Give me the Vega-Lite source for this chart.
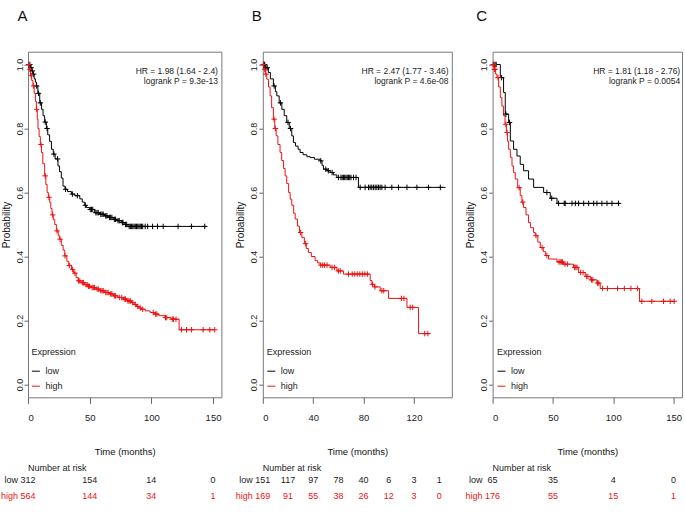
{
"$schema": "https://vega.github.io/schema/vega-lite/v6.json",
"background": "white",
"padding": {"left": 0, "top": 7.7, "right": 2, "bottom": 2},
"spacing": 40.8,
"bounds": "flush",
"resolve": {"scale": {"color": "independent"}, "legend": {"color": "independent"}},
"config": {
  "view": {"stroke": "#777", "strokeWidth": 1},
  "font": "Liberation Sans, Arial, sans-serif",
  "axis": {"domain": false, "grid": false, "tickColor": "#666", "labelColor": "#222", "labelFont": "Liberation Sans, Arial, sans-serif", "labelFontSize": 9.5, "titleFont": "Liberation Sans, Arial, sans-serif", "titleFontWeight": "normal", "titleFontSize": 9.5, "titleColor": "#111"},
  "axisY": {"labelFontSize": 9, "titleFontSize": 10},
  "legend": {"padding": 0, "symbolType": "stroke", "symbolSize": 64, "symbolStrokeWidth": 1, "labelFontSize": 9, "titleFontSize": 9, "titleFontWeight": "normal", "labelColor": "#222", "titleColor": "#222", "rowPadding": 5, "titlePadding": 10, "labelOffset": 5, "labelFont": "Liberation Sans, Arial, sans-serif", "titleFont": "Liberation Sans, Arial, sans-serif"},
  "title": {"font": "Liberation Sans, sans-serif", "fontSize": 15, "fontWeight": "normal", "anchor": "start", "frame": "group", "baseline": "alphabetic", "offset": 28, "color": "#111"}
},
"datasets": {
  "curves": [
    {"p":"A","g":"low","t":0,"s":1},{"p":"A","g":"low","t":2,"s":0.99},{"p":"A","g":"low","t":3,"s":0.98},{"p":"A","g":"low","t":4,"s":0.97},{"p":"A","g":"low","t":5,"s":0.955},{"p":"A","g":"low","t":6,"s":0.945},{"p":"A","g":"low","t":6.8,"s":0.933},{"p":"A","g":"low","t":8,"s":0.91},{"p":"A","g":"low","t":9.5,"s":0.88},{"p":"A","g":"low","t":11,"s":0.86},{"p":"A","g":"low","t":12.2,"s":0.84},{"p":"A","g":"low","t":13.5,"s":0.82},{"p":"A","g":"low","t":14.9,"s":0.8},{"p":"A","g":"low","t":16,"s":0.78},{"p":"A","g":"low","t":17.5,"s":0.76},{"p":"A","g":"low","t":19,"s":0.735},{"p":"A","g":"low","t":20.5,"s":0.72},{"p":"A","g":"low","t":22,"s":0.705},{"p":"A","g":"low","t":24.3,"s":0.683},{"p":"A","g":"low","t":25.5,"s":0.665},{"p":"A","g":"low","t":27,"s":0.645},{"p":"A","g":"low","t":28.4,"s":0.62},{"p":"A","g":"low","t":30,"s":0.61},{"p":"A","g":"low","t":32,"s":0.603},{"p":"A","g":"low","t":35.2,"s":0.595},{"p":"A","g":"low","t":38,"s":0.59},{"p":"A","g":"low","t":42,"s":0.58},{"p":"A","g":"low","t":44,"s":0.57},{"p":"A","g":"low","t":46,"s":0.56},{"p":"A","g":"low","t":47.3,"s":0.553},{"p":"A","g":"low","t":50,"s":0.547},{"p":"A","g":"low","t":54,"s":0.537},{"p":"A","g":"low","t":58,"s":0.532},{"p":"A","g":"low","t":62,"s":0.527},{"p":"A","g":"low","t":65,"s":0.522},{"p":"A","g":"low","t":69,"s":0.516},{"p":"A","g":"low","t":72,"s":0.512},{"p":"A","g":"low","t":75.7,"s":0.506},{"p":"A","g":"low","t":78,"s":0.5},{"p":"A","g":"low","t":81,"s":0.494},{"p":"A","g":"low","t":144.5,"s":0.494},
    {"p":"A","g":"high","t":0,"s":1},{"p":"A","g":"high","t":1,"s":0.985},{"p":"A","g":"high","t":2,"s":0.965},{"p":"A","g":"high","t":3,"s":0.95},{"p":"A","g":"high","t":4,"s":0.933},{"p":"A","g":"high","t":5,"s":0.91},{"p":"A","g":"high","t":6,"s":0.885},{"p":"A","g":"high","t":6.8,"s":0.86},{"p":"A","g":"high","t":7.5,"s":0.83},{"p":"A","g":"high","t":8.1,"s":0.8},{"p":"A","g":"high","t":9,"s":0.775},{"p":"A","g":"high","t":10,"s":0.75},{"p":"A","g":"high","t":10.9,"s":0.725},{"p":"A","g":"high","t":12,"s":0.69},{"p":"A","g":"high","t":13.5,"s":0.652},{"p":"A","g":"high","t":14.5,"s":0.625},{"p":"A","g":"high","t":15.5,"s":0.6},{"p":"A","g":"high","t":16.5,"s":0.585},{"p":"A","g":"high","t":17.6,"s":0.569},{"p":"A","g":"high","t":18.5,"s":0.55},{"p":"A","g":"high","t":19.5,"s":0.53},{"p":"A","g":"high","t":20.5,"s":0.515},{"p":"A","g":"high","t":21.7,"s":0.5},{"p":"A","g":"high","t":23,"s":0.48},{"p":"A","g":"high","t":24.5,"s":0.465},{"p":"A","g":"high","t":25.7,"s":0.454},{"p":"A","g":"high","t":27,"s":0.435},{"p":"A","g":"high","t":28.5,"s":0.42},{"p":"A","g":"high","t":29.8,"s":0.402},{"p":"A","g":"high","t":31.5,"s":0.385},{"p":"A","g":"high","t":33,"s":0.372},{"p":"A","g":"high","t":35.2,"s":0.36},{"p":"A","g":"high","t":37,"s":0.348},{"p":"A","g":"high","t":39,"s":0.335},{"p":"A","g":"high","t":40.6,"s":0.324},{"p":"A","g":"high","t":43,"s":0.318},{"p":"A","g":"high","t":46,"s":0.312},{"p":"A","g":"high","t":48.5,"s":0.307},{"p":"A","g":"high","t":51.4,"s":0.303},{"p":"A","g":"high","t":55,"s":0.298},{"p":"A","g":"high","t":58.5,"s":0.293},{"p":"A","g":"high","t":62.2,"s":0.2875},{"p":"A","g":"high","t":66,"s":0.283},{"p":"A","g":"high","t":69.5,"s":0.277},{"p":"A","g":"high","t":73,"s":0.272},{"p":"A","g":"high","t":77,"s":0.267},{"p":"A","g":"high","t":80.5,"s":0.261},{"p":"A","g":"high","t":83.9,"s":0.256},{"p":"A","g":"high","t":86,"s":0.25},{"p":"A","g":"high","t":88,"s":0.244},{"p":"A","g":"high","t":90,"s":0.239},{"p":"A","g":"high","t":92,"s":0.235},{"p":"A","g":"high","t":95,"s":0.23},{"p":"A","g":"high","t":99,"s":0.225},{"p":"A","g":"high","t":102.8,"s":0.22},{"p":"A","g":"high","t":106,"s":0.215},{"p":"A","g":"high","t":110.9,"s":0.209},{"p":"A","g":"high","t":116,"s":0.204},{"p":"A","g":"high","t":122.5,"s":0.171},{"p":"A","g":"high","t":151.4,"s":0.171},
    {"p":"B","g":"low","t":0,"s":1},{"p":"B","g":"low","t":2,"s":0.99},{"p":"B","g":"low","t":4.4,"s":0.975},{"p":"B","g":"low","t":6,"s":0.955},{"p":"B","g":"low","t":8.4,"s":0.933},{"p":"B","g":"low","t":10,"s":0.915},{"p":"B","g":"low","t":11.1,"s":0.902},{"p":"B","g":"low","t":13,"s":0.88},{"p":"B","g":"low","t":15.1,"s":0.86},{"p":"B","g":"low","t":17,"s":0.84},{"p":"B","g":"low","t":19,"s":0.819},{"p":"B","g":"low","t":21,"s":0.8},{"p":"B","g":"low","t":23,"s":0.777},{"p":"B","g":"low","t":24.3,"s":0.756},{"p":"B","g":"low","t":26,"s":0.745},{"p":"B","g":"low","t":28,"s":0.735},{"p":"B","g":"low","t":29.6,"s":0.725},{"p":"B","g":"low","t":32,"s":0.718},{"p":"B","g":"low","t":35,"s":0.712},{"p":"B","g":"low","t":37.6,"s":0.709},{"p":"B","g":"low","t":41,"s":0.704},{"p":"B","g":"low","t":45.5,"s":0.699},{"p":"B","g":"low","t":47,"s":0.685},{"p":"B","g":"low","t":48.1,"s":0.673},{"p":"B","g":"low","t":51,"s":0.668},{"p":"B","g":"low","t":53.5,"s":0.6625},{"p":"B","g":"low","t":56,"s":0.655},{"p":"B","g":"low","t":58.8,"s":0.647},{"p":"B","g":"low","t":75.9,"s":0.616},{"p":"B","g":"low","t":145,"s":0.616},
    {"p":"B","g":"high","t":0,"s":1},{"p":"B","g":"high","t":1,"s":0.985},{"p":"B","g":"high","t":2,"s":0.97},{"p":"B","g":"high","t":3.2,"s":0.954},{"p":"B","g":"high","t":4.5,"s":0.93},{"p":"B","g":"high","t":5.8,"s":0.902},{"p":"B","g":"high","t":7,"s":0.865},{"p":"B","g":"high","t":8.4,"s":0.829},{"p":"B","g":"high","t":9.5,"s":0.8},{"p":"B","g":"high","t":10.6,"s":0.777},{"p":"B","g":"high","t":12,"s":0.75},{"p":"B","g":"high","t":13.7,"s":0.725},{"p":"B","g":"high","t":15,"s":0.7},{"p":"B","g":"high","t":16.5,"s":0.675},{"p":"B","g":"high","t":17.7,"s":0.652},{"p":"B","g":"high","t":19,"s":0.628},{"p":"B","g":"high","t":20.5,"s":0.6},{"p":"B","g":"high","t":21.7,"s":0.579},{"p":"B","g":"high","t":23,"s":0.56},{"p":"B","g":"high","t":24.5,"s":0.535},{"p":"B","g":"high","t":25.7,"s":0.517},{"p":"B","g":"high","t":27.5,"s":0.495},{"p":"B","g":"high","t":29.1,"s":0.475},{"p":"B","g":"high","t":31,"s":0.459},{"p":"B","g":"high","t":33,"s":0.44},{"p":"B","g":"high","t":34.5,"s":0.425},{"p":"B","g":"high","t":36.2,"s":0.4125},{"p":"B","g":"high","t":38.5,"s":0.4},{"p":"B","g":"high","t":41.5,"s":0.387},{"p":"B","g":"high","t":43.5,"s":0.38},{"p":"B","g":"high","t":45.5,"s":0.373},{"p":"B","g":"high","t":53.5,"s":0.366},{"p":"B","g":"high","t":58.8,"s":0.355},{"p":"B","g":"high","t":64,"s":0.345},{"p":"B","g":"high","t":85.2,"s":0.325},{"p":"B","g":"high","t":86.6,"s":0.313},{"p":"B","g":"high","t":88.5,"s":0.305},{"p":"B","g":"high","t":93.2,"s":0.293},{"p":"B","g":"high","t":99.8,"s":0.269},{"p":"B","g":"high","t":114.4,"s":0.241},{"p":"B","g":"high","t":123.6,"s":0.159},{"p":"B","g":"high","t":132.9,"s":0.159},
    {"p":"C","g":"low","t":0,"s":1},{"p":"C","g":"low","t":6.4,"s":0.959},{"p":"C","g":"low","t":9.1,"s":0.9125},{"p":"C","g":"low","t":10.5,"s":0.845},{"p":"C","g":"low","t":13.3,"s":0.819},{"p":"C","g":"low","t":14.7,"s":0.761},{"p":"C","g":"low","t":17.4,"s":0.735},{"p":"C","g":"low","t":20.2,"s":0.714},{"p":"C","g":"low","t":22.9,"s":0.688},{"p":"C","g":"low","t":25.7,"s":0.668},{"p":"C","g":"low","t":29.8,"s":0.642},{"p":"C","g":"low","t":34,"s":0.616},{"p":"C","g":"low","t":42.3,"s":0.6},{"p":"C","g":"low","t":47.8,"s":0.582},{"p":"C","g":"low","t":53.4,"s":0.566},{"p":"C","g":"low","t":105.5,"s":0.566},
    {"p":"C","g":"high","t":0,"s":1},{"p":"C","g":"high","t":1.5,"s":0.985},{"p":"C","g":"high","t":2.5,"s":0.97},{"p":"C","g":"high","t":3.6,"s":0.959},{"p":"C","g":"high","t":5,"s":0.93},{"p":"C","g":"high","t":6.4,"s":0.897},{"p":"C","g":"high","t":7.7,"s":0.87},{"p":"C","g":"high","t":9.1,"s":0.84},{"p":"C","g":"high","t":10.3,"s":0.813},{"p":"C","g":"high","t":11.4,"s":0.7875},{"p":"C","g":"high","t":12.3,"s":0.76},{"p":"C","g":"high","t":13.3,"s":0.735},{"p":"C","g":"high","t":14.7,"s":0.71},{"p":"C","g":"high","t":16.1,"s":0.683},{"p":"C","g":"high","t":17.4,"s":0.662},{"p":"C","g":"high","t":18.8,"s":0.642},{"p":"C","g":"high","t":20.8,"s":0.615},{"p":"C","g":"high","t":22.9,"s":0.59},{"p":"C","g":"high","t":24.3,"s":0.57},{"p":"C","g":"high","t":25.7,"s":0.553},{"p":"C","g":"high","t":27.7,"s":0.53},{"p":"C","g":"high","t":29.8,"s":0.506},{"p":"C","g":"high","t":31.5,"s":0.49},{"p":"C","g":"high","t":34,"s":0.475},{"p":"C","g":"high","t":35.4,"s":0.465},{"p":"C","g":"high","t":37.5,"s":0.445},{"p":"C","g":"high","t":39.5,"s":0.428},{"p":"C","g":"high","t":42,"s":0.415},{"p":"C","g":"high","t":44,"s":0.403},{"p":"C","g":"high","t":46.4,"s":0.392},{"p":"C","g":"high","t":53.4,"s":0.383},{"p":"C","g":"high","t":58.8,"s":0.376},{"p":"C","g":"high","t":67.1,"s":0.366},{"p":"C","g":"high","t":71.3,"s":0.35},{"p":"C","g":"high","t":76.8,"s":0.3375},{"p":"C","g":"high","t":81,"s":0.327},{"p":"C","g":"high","t":86.5,"s":0.317},{"p":"C","g":"high","t":89.2,"s":0.3},{"p":"C","g":"high","t":121.8,"s":0.26},{"p":"C","g":"high","t":151.3,"s":0.26}
  ],
  "censor": [
    {"p":"A","g":"low","t":1.5,"s":1},{"p":"A","g":"low","t":2.5,"s":0.99},{"p":"A","g":"low","t":3.5,"s":0.98},{"p":"A","g":"low","t":4.5,"s":0.97},{"p":"A","g":"low","t":7,"s":0.933},{"p":"A","g":"low","t":8.5,"s":0.91},{"p":"A","g":"low","t":10,"s":0.88},{"p":"A","g":"low","t":14,"s":0.82},{"p":"A","g":"low","t":15.5,"s":0.8},{"p":"A","g":"low","t":21,"s":0.72},{"p":"A","g":"low","t":24,"s":0.705},{"p":"A","g":"low","t":30.5,"s":0.61},{"p":"A","g":"low","t":36,"s":0.595},{"p":"A","g":"low","t":40,"s":0.59},{"p":"A","g":"low","t":46.5,"s":0.56},{"p":"A","g":"low","t":50.5,"s":0.547},{"p":"A","g":"low","t":51.5,"s":0.547},{"p":"A","g":"low","t":52.5,"s":0.547},{"p":"A","g":"low","t":55,"s":0.537},{"p":"A","g":"low","t":56,"s":0.537},{"p":"A","g":"low","t":57,"s":0.537},{"p":"A","g":"low","t":59,"s":0.532},{"p":"A","g":"low","t":60,"s":0.532},{"p":"A","g":"low","t":61,"s":0.532},{"p":"A","g":"low","t":63,"s":0.527},{"p":"A","g":"low","t":64,"s":0.527},{"p":"A","g":"low","t":66,"s":0.522},{"p":"A","g":"low","t":67,"s":0.522},{"p":"A","g":"low","t":68,"s":0.522},{"p":"A","g":"low","t":70,"s":0.516},{"p":"A","g":"low","t":71,"s":0.516},{"p":"A","g":"low","t":73,"s":0.512},{"p":"A","g":"low","t":74,"s":0.512},{"p":"A","g":"low","t":76.5,"s":0.506},{"p":"A","g":"low","t":77,"s":0.506},{"p":"A","g":"low","t":79,"s":0.5},{"p":"A","g":"low","t":80,"s":0.5},{"p":"A","g":"low","t":82,"s":0.494},{"p":"A","g":"low","t":83,"s":0.494},{"p":"A","g":"low","t":84,"s":0.494},{"p":"A","g":"low","t":85,"s":0.494},{"p":"A","g":"low","t":86,"s":0.494},{"p":"A","g":"low","t":87,"s":0.494},{"p":"A","g":"low","t":88,"s":0.494},{"p":"A","g":"low","t":89,"s":0.494},{"p":"A","g":"low","t":90,"s":0.494},{"p":"A","g":"low","t":91,"s":0.494},{"p":"A","g":"low","t":92,"s":0.494},{"p":"A","g":"low","t":93,"s":0.494},{"p":"A","g":"low","t":95,"s":0.494},{"p":"A","g":"low","t":97,"s":0.494},{"p":"A","g":"low","t":101,"s":0.494},{"p":"A","g":"low","t":105,"s":0.494},{"p":"A","g":"low","t":109.6,"s":0.494},{"p":"A","g":"low","t":121.7,"s":0.494},{"p":"A","g":"low","t":132.5,"s":0.494},{"p":"A","g":"low","t":143.3,"s":0.494},
    {"p":"A","g":"high","t":0.5,"s":1},{"p":"A","g":"high","t":1.5,"s":0.985},{"p":"A","g":"high","t":2.5,"s":0.965},{"p":"A","g":"high","t":4.5,"s":0.933},{"p":"A","g":"high","t":7,"s":0.86},{"p":"A","g":"high","t":10.5,"s":0.75},{"p":"A","g":"high","t":14,"s":0.652},{"p":"A","g":"high","t":17,"s":0.585},{"p":"A","g":"high","t":20,"s":0.53},{"p":"A","g":"high","t":23.5,"s":0.48},{"p":"A","g":"high","t":26,"s":0.454},{"p":"A","g":"high","t":30,"s":0.402},{"p":"A","g":"high","t":33.5,"s":0.372},{"p":"A","g":"high","t":36,"s":0.36},{"p":"A","g":"high","t":38,"s":0.348},{"p":"A","g":"high","t":41,"s":0.324},{"p":"A","g":"high","t":42,"s":0.324},{"p":"A","g":"high","t":44,"s":0.318},{"p":"A","g":"high","t":45,"s":0.318},{"p":"A","g":"high","t":47,"s":0.312},{"p":"A","g":"high","t":48,"s":0.312},{"p":"A","g":"high","t":49,"s":0.307},{"p":"A","g":"high","t":50,"s":0.307},{"p":"A","g":"high","t":52,"s":0.303},{"p":"A","g":"high","t":53,"s":0.303},{"p":"A","g":"high","t":54,"s":0.303},{"p":"A","g":"high","t":56,"s":0.298},{"p":"A","g":"high","t":57,"s":0.298},{"p":"A","g":"high","t":59,"s":0.293},{"p":"A","g":"high","t":60,"s":0.293},{"p":"A","g":"high","t":61,"s":0.293},{"p":"A","g":"high","t":63,"s":0.2875},{"p":"A","g":"high","t":64,"s":0.2875},{"p":"A","g":"high","t":65,"s":0.2875},{"p":"A","g":"high","t":67,"s":0.283},{"p":"A","g":"high","t":68,"s":0.283},{"p":"A","g":"high","t":70,"s":0.277},{"p":"A","g":"high","t":71,"s":0.277},{"p":"A","g":"high","t":74,"s":0.272},{"p":"A","g":"high","t":76,"s":0.272},{"p":"A","g":"high","t":78,"s":0.267},{"p":"A","g":"high","t":79,"s":0.267},{"p":"A","g":"high","t":81,"s":0.261},{"p":"A","g":"high","t":82,"s":0.261},{"p":"A","g":"high","t":83,"s":0.261},{"p":"A","g":"high","t":85,"s":0.256},{"p":"A","g":"high","t":87,"s":0.25},{"p":"A","g":"high","t":89,"s":0.244},{"p":"A","g":"high","t":91,"s":0.239},{"p":"A","g":"high","t":93,"s":0.235},{"p":"A","g":"high","t":101.5,"s":0.225},{"p":"A","g":"high","t":103.5,"s":0.22},{"p":"A","g":"high","t":104.5,"s":0.22},{"p":"A","g":"high","t":111.5,"s":0.209},{"p":"A","g":"high","t":112.5,"s":0.209},{"p":"A","g":"high","t":117,"s":0.204},{"p":"A","g":"high","t":118,"s":0.204},{"p":"A","g":"high","t":120,"s":0.204},{"p":"A","g":"high","t":124.4,"s":0.171},{"p":"A","g":"high","t":128.5,"s":0.171},{"p":"A","g":"high","t":132.5,"s":0.171},{"p":"A","g":"high","t":142,"s":0.171},{"p":"A","g":"high","t":147.4,"s":0.171},{"p":"A","g":"high","t":151.4,"s":0.171},
    {"p":"B","g":"low","t":0.5,"s":1},{"p":"B","g":"low","t":1,"s":1},{"p":"B","g":"low","t":1.5,"s":1},{"p":"B","g":"low","t":2.5,"s":0.99},{"p":"B","g":"low","t":3.5,"s":0.99},{"p":"B","g":"low","t":9,"s":0.933},{"p":"B","g":"low","t":14,"s":0.88},{"p":"B","g":"low","t":20,"s":0.819},{"p":"B","g":"low","t":22,"s":0.8},{"p":"B","g":"low","t":46,"s":0.699},{"p":"B","g":"low","t":50,"s":0.673},{"p":"B","g":"low","t":52,"s":0.668},{"p":"B","g":"low","t":55,"s":0.6625},{"p":"B","g":"low","t":60,"s":0.647},{"p":"B","g":"low","t":62,"s":0.647},{"p":"B","g":"low","t":63,"s":0.647},{"p":"B","g":"low","t":64,"s":0.647},{"p":"B","g":"low","t":65,"s":0.647},{"p":"B","g":"low","t":66,"s":0.647},{"p":"B","g":"low","t":67,"s":0.647},{"p":"B","g":"low","t":68,"s":0.647},{"p":"B","g":"low","t":69,"s":0.647},{"p":"B","g":"low","t":70,"s":0.647},{"p":"B","g":"low","t":72,"s":0.647},{"p":"B","g":"low","t":74,"s":0.647},{"p":"B","g":"low","t":77.3,"s":0.616},{"p":"B","g":"low","t":81.2,"s":0.616},{"p":"B","g":"low","t":83.9,"s":0.616},{"p":"B","g":"low","t":85.2,"s":0.616},{"p":"B","g":"low","t":86.5,"s":0.616},{"p":"B","g":"low","t":87.8,"s":0.616},{"p":"B","g":"low","t":89.2,"s":0.616},{"p":"B","g":"low","t":90.5,"s":0.616},{"p":"B","g":"low","t":91.8,"s":0.616},{"p":"B","g":"low","t":93.1,"s":0.616},{"p":"B","g":"low","t":94.5,"s":0.616},{"p":"B","g":"low","t":97.1,"s":0.616},{"p":"B","g":"low","t":102.4,"s":0.616},{"p":"B","g":"low","t":107.7,"s":0.616},{"p":"B","g":"low","t":114.4,"s":0.616},{"p":"B","g":"low","t":122.3,"s":0.616},{"p":"B","g":"low","t":131.5,"s":0.616},{"p":"B","g":"low","t":140.9,"s":0.616},
    {"p":"B","g":"high","t":0.5,"s":1},{"p":"B","g":"high","t":1.5,"s":0.985},{"p":"B","g":"high","t":2.5,"s":0.97},{"p":"B","g":"high","t":9,"s":0.829},{"p":"B","g":"high","t":10,"s":0.8},{"p":"B","g":"high","t":30,"s":0.475},{"p":"B","g":"high","t":34,"s":0.44},{"p":"B","g":"high","t":46,"s":0.373},{"p":"B","g":"high","t":47.5,"s":0.373},{"p":"B","g":"high","t":49,"s":0.373},{"p":"B","g":"high","t":51,"s":0.373},{"p":"B","g":"high","t":55,"s":0.366},{"p":"B","g":"high","t":57,"s":0.366},{"p":"B","g":"high","t":60,"s":0.355},{"p":"B","g":"high","t":61.5,"s":0.355},{"p":"B","g":"high","t":68,"s":0.345},{"p":"B","g":"high","t":71,"s":0.345},{"p":"B","g":"high","t":73,"s":0.345},{"p":"B","g":"high","t":75,"s":0.345},{"p":"B","g":"high","t":77,"s":0.345},{"p":"B","g":"high","t":79,"s":0.345},{"p":"B","g":"high","t":81,"s":0.345},{"p":"B","g":"high","t":83,"s":0.345},{"p":"B","g":"high","t":87,"s":0.313},{"p":"B","g":"high","t":89,"s":0.305},{"p":"B","g":"high","t":94.5,"s":0.293},{"p":"B","g":"high","t":96,"s":0.293},{"p":"B","g":"high","t":110,"s":0.269},{"p":"B","g":"high","t":112,"s":0.269},{"p":"B","g":"high","t":117,"s":0.241},{"p":"B","g":"high","t":119,"s":0.241},{"p":"B","g":"high","t":128.5,"s":0.159},{"p":"B","g":"high","t":131,"s":0.159},
    {"p":"C","g":"low","t":1,"s":1},{"p":"C","g":"low","t":2,"s":1},{"p":"C","g":"low","t":3,"s":1},{"p":"C","g":"low","t":7.5,"s":0.959},{"p":"C","g":"low","t":11,"s":0.845},{"p":"C","g":"low","t":14,"s":0.819},{"p":"C","g":"low","t":45,"s":0.6},{"p":"C","g":"low","t":49,"s":0.582},{"p":"C","g":"low","t":54.7,"s":0.566},{"p":"C","g":"low","t":59.4,"s":0.566},{"p":"C","g":"low","t":60.2,"s":0.566},{"p":"C","g":"low","t":65.8,"s":0.566},{"p":"C","g":"low","t":68.6,"s":0.566},{"p":"C","g":"low","t":71.3,"s":0.566},{"p":"C","g":"low","t":75.5,"s":0.566},{"p":"C","g":"low","t":79.6,"s":0.566},{"p":"C","g":"low","t":83.8,"s":0.566},{"p":"C","g":"low","t":86.5,"s":0.566},{"p":"C","g":"low","t":90.6,"s":0.566},{"p":"C","g":"low","t":94.8,"s":0.566},{"p":"C","g":"low","t":98.9,"s":0.566},{"p":"C","g":"low","t":104.4,"s":0.566},
    {"p":"C","g":"high","t":0.5,"s":1},{"p":"C","g":"high","t":1,"s":1},{"p":"C","g":"high","t":1.5,"s":0.985},{"p":"C","g":"high","t":2,"s":0.985},{"p":"C","g":"high","t":4.5,"s":0.959},{"p":"C","g":"high","t":11,"s":0.813},{"p":"C","g":"high","t":12,"s":0.7875},{"p":"C","g":"high","t":22,"s":0.615},{"p":"C","g":"high","t":25,"s":0.57},{"p":"C","g":"high","t":36,"s":0.465},{"p":"C","g":"high","t":41,"s":0.428},{"p":"C","g":"high","t":45,"s":0.403},{"p":"C","g":"high","t":55,"s":0.383},{"p":"C","g":"high","t":56,"s":0.383},{"p":"C","g":"high","t":57,"s":0.383},{"p":"C","g":"high","t":58,"s":0.383},{"p":"C","g":"high","t":60,"s":0.376},{"p":"C","g":"high","t":62,"s":0.376},{"p":"C","g":"high","t":68,"s":0.366},{"p":"C","g":"high","t":69,"s":0.366},{"p":"C","g":"high","t":70,"s":0.366},{"p":"C","g":"high","t":73,"s":0.35},{"p":"C","g":"high","t":75,"s":0.35},{"p":"C","g":"high","t":78,"s":0.3375},{"p":"C","g":"high","t":79,"s":0.3375},{"p":"C","g":"high","t":82,"s":0.327},{"p":"C","g":"high","t":83,"s":0.327},{"p":"C","g":"high","t":87,"s":0.317},{"p":"C","g":"high","t":88,"s":0.317},{"p":"C","g":"high","t":91.2,"s":0.3},{"p":"C","g":"high","t":95.3,"s":0.3},{"p":"C","g":"high","t":103.6,"s":0.3},{"p":"C","g":"high","t":109.2,"s":0.3},{"p":"C","g":"high","t":114.7,"s":0.3},{"p":"C","g":"high","t":120.2,"s":0.3},{"p":"C","g":"high","t":123.7,"s":0.26},{"p":"C","g":"high","t":132,"s":0.26},{"p":"C","g":"high","t":141.7,"s":0.26},{"p":"C","g":"high","t":147.2,"s":0.26},{"p":"C","g":"high","t":150.5,"s":0.26}
  ],
  "risk": [
    {"p":"A","g":"low","t":0,"n":"312"},{"p":"A","g":"low","t":50,"n":"154"},{"p":"A","g":"low","t":100,"n":"14"},{"p":"A","g":"low","t":150,"n":"0"},
    {"p":"A","g":"high","t":0,"n":"564"},{"p":"A","g":"high","t":50,"n":"144"},{"p":"A","g":"high","t":100,"n":"34"},{"p":"A","g":"high","t":150,"n":"1"},
    {"p":"B","g":"low","t":0,"n":"151"},{"p":"B","g":"low","t":20,"n":"117"},{"p":"B","g":"low","t":40,"n":"97"},{"p":"B","g":"low","t":60,"n":"78"},{"p":"B","g":"low","t":80,"n":"40"},{"p":"B","g":"low","t":100,"n":"6"},{"p":"B","g":"low","t":120,"n":"3"},{"p":"B","g":"low","t":140,"n":"1"},
    {"p":"B","g":"high","t":0,"n":"169"},{"p":"B","g":"high","t":20,"n":"91"},{"p":"B","g":"high","t":40,"n":"55"},{"p":"B","g":"high","t":60,"n":"38"},{"p":"B","g":"high","t":80,"n":"26"},{"p":"B","g":"high","t":100,"n":"12"},{"p":"B","g":"high","t":120,"n":"3"},{"p":"B","g":"high","t":140,"n":"0"},
    {"p":"C","g":"low","t":0,"n":"65"},{"p":"C","g":"low","t":50,"n":"35"},{"p":"C","g":"low","t":100,"n":"4"},{"p":"C","g":"low","t":150,"n":"0"},
    {"p":"C","g":"high","t":0,"n":"176"},{"p":"C","g":"high","t":50,"n":"55"},{"p":"C","g":"high","t":100,"n":"15"},{"p":"C","g":"high","t":150,"n":"1"}
  ]
},
"hconcat": [
  {
    "width": 193.4, "height": 345.6,
    "title": {"text": "A", "dx": -10.5},
    "layer": [
      {"data": {"name": "curves"}, "transform": [{"filter": "datum.p === 'A'"}],
       "mark": {"type": "line", "interpolate": "step-after", "strokeWidth": 1},
       "encoding": {
         "x": {"field": "t", "type": "quantitative", "scale": {"domain": [0, 156.8], "nice": false, "zero": false}, "axis": {"values": [0, 50, 100, 150], "title": "Time (months)", "tickSize": 6, "labelPadding": 9, "titlePadding": 25}},
         "y": {"field": "s", "type": "quantitative", "scale": {"domain": [-0.04, 1.04], "nice": false, "zero": false}, "axis": {"values": [0, 0.2, 0.4, 0.6, 0.8, 1], "format": ".1f", "title": "Probability", "labelAngle": 270, "labelAlign": "center", "labelBaseline": "bottom", "tickSize": 4, "labelPadding": 0, "titlePadding": 4}},
         "color": {"field": "g", "type": "nominal", "scale": {"domain": ["low", "high"], "range": ["#000000", "#ee1111"]}, "legend": {"title": "Expression", "orient": "none", "legendX": 3.4, "legendY": 296}}
       }},
      {"data": {"name": "censor"}, "transform": [{"filter": "datum.p === 'A'"}],
       "mark": {"type": "point", "shape": "M-1,0L1,0M0,-1L0,1", "filled": false, "size": 30, "strokeWidth": 1, "opacity": 1},
       "encoding": {"x": {"field": "t", "type": "quantitative"}, "y": {"field": "s", "type": "quantitative"}, "color": {"field": "g", "type": "nominal", "legend": null}}},
      {"data": {"values": [{}]}, "mark": {"type": "text", "align": "right", "baseline": "middle", "fontSize": 8.5, "lineHeight": 10, "color": "#222"},
       "encoding": {"x": {"datum": 154}, "y": {"datum": 0.98}, "text": {"value": ["HR = 1.98 (1.64 - 2.4)", "logrank P = 9.3e-13"]}}},
      {"data": {"values": [{}]}, "mark": {"type": "text", "align": "left", "baseline": "middle", "fontSize": 9, "color": "#222"},
       "encoding": {"x": {"datum": 0}, "y": {"datum": -0.26}, "text": {"value": "Number at risk"}}},
      {"data": {"values": [{}]}, "mark": {"type": "text", "align": "right", "baseline": "middle", "fontSize": 9, "color": "#222", "dx": -10},
       "encoding": {"x": {"datum": 0}, "y": {"datum": -0.298}, "text": {"value": "low"}}},
      {"data": {"values": [{}]}, "mark": {"type": "text", "align": "right", "baseline": "middle", "fontSize": 9, "color": "#ee1111", "dx": -10},
       "encoding": {"x": {"datum": 0}, "y": {"datum": -0.348}, "text": {"value": "high"}}},
      {"data": {"name": "risk"}, "transform": [{"filter": "datum.p === 'A' && datum.g === 'low'"}],
       "mark": {"type": "text", "align": "center", "baseline": "middle", "fontSize": 9, "color": "#222"},
       "encoding": {"x": {"field": "t", "type": "quantitative"}, "y": {"datum": -0.298}, "text": {"field": "n"}}},
      {"data": {"name": "risk"}, "transform": [{"filter": "datum.p === 'A' && datum.g === 'high'"}],
       "mark": {"type": "text", "align": "center", "baseline": "middle", "fontSize": 9, "color": "#ee1111"},
       "encoding": {"x": {"field": "t", "type": "quantitative"}, "y": {"datum": -0.348}, "text": {"field": "n"}}}
    ]
  },
  {
    "width": 189, "height": 345.6,
    "title": {"text": "B", "dx": -11},
    "layer": [
      {"data": {"name": "curves"}, "transform": [{"filter": "datum.p === 'B'"}],
       "mark": {"type": "line", "interpolate": "step-after", "strokeWidth": 1},
       "encoding": {
         "x": {"field": "t", "type": "quantitative", "scale": {"domain": [0, 150], "nice": false, "zero": false}, "axis": {"values": [0, 20, 40, 60, 80, 100, 120, 140], "title": "Time (months)", "tickSize": 6, "labelPadding": 9, "titlePadding": 25}},
         "y": {"field": "s", "type": "quantitative", "scale": {"domain": [-0.04, 1.04], "nice": false, "zero": false}, "axis": {"values": [0, 0.2, 0.4, 0.6, 0.8, 1], "format": ".1f", "title": "Probability", "labelAngle": 270, "labelAlign": "center", "labelBaseline": "bottom", "tickSize": 4, "labelPadding": 0, "titlePadding": 4}},
         "color": {"field": "g", "type": "nominal", "scale": {"domain": ["low", "high"], "range": ["#000000", "#ee1111"]}, "legend": {"title": "Expression", "orient": "none", "legendX": 4, "legendY": 296}}
       }},
      {"data": {"name": "censor"}, "transform": [{"filter": "datum.p === 'B'"}],
       "mark": {"type": "point", "shape": "M-1,0L1,0M0,-1L0,1", "filled": false, "size": 30, "strokeWidth": 1, "opacity": 1},
       "encoding": {"x": {"field": "t", "type": "quantitative"}, "y": {"field": "s", "type": "quantitative"}, "color": {"field": "g", "type": "nominal", "legend": null}}},
      {"data": {"values": [{}]}, "mark": {"type": "text", "align": "right", "baseline": "middle", "fontSize": 8.5, "lineHeight": 10, "color": "#222"},
       "encoding": {"x": {"datum": 147.4}, "y": {"datum": 0.98}, "text": {"value": ["HR = 2.47 (1.77 - 3.46)", "logrank P = 4.6e-08"]}}},
      {"data": {"values": [{}]}, "mark": {"type": "text", "align": "left", "baseline": "middle", "fontSize": 9, "color": "#222"},
       "encoding": {"x": {"datum": 0}, "y": {"datum": -0.26}, "text": {"value": "Number at risk"}}},
      {"data": {"values": [{}]}, "mark": {"type": "text", "align": "right", "baseline": "middle", "fontSize": 9, "color": "#222", "dx": -10},
       "encoding": {"x": {"datum": 0}, "y": {"datum": -0.298}, "text": {"value": "low"}}},
      {"data": {"values": [{}]}, "mark": {"type": "text", "align": "right", "baseline": "middle", "fontSize": 9, "color": "#ee1111", "dx": -10},
       "encoding": {"x": {"datum": 0}, "y": {"datum": -0.348}, "text": {"value": "high"}}},
      {"data": {"name": "risk"}, "transform": [{"filter": "datum.p === 'B' && datum.g === 'low'"}],
       "mark": {"type": "text", "align": "center", "baseline": "middle", "fontSize": 9, "color": "#222"},
       "encoding": {"x": {"field": "t", "type": "quantitative"}, "y": {"datum": -0.298}, "text": {"field": "n"}}},
      {"data": {"name": "risk"}, "transform": [{"filter": "datum.p === 'B' && datum.g === 'high'"}],
       "mark": {"type": "text", "align": "center", "baseline": "middle", "fontSize": 9, "color": "#ee1111"},
       "encoding": {"x": {"field": "t", "type": "quantitative"}, "y": {"datum": -0.348}, "text": {"field": "n"}}}
    ]
  },
  {
    "width": 189.4, "height": 345.6,
    "title": {"text": "C", "dx": -16.3},
    "layer": [
      {"data": {"name": "curves"}, "transform": [{"filter": "datum.p === 'C'"}],
       "mark": {"type": "line", "interpolate": "step-after", "strokeWidth": 1},
       "encoding": {
         "x": {"field": "t", "type": "quantitative", "scale": {"domain": [0, 157], "nice": false, "zero": false}, "axis": {"values": [0, 50, 100, 150], "title": "Time (months)", "tickSize": 6, "labelPadding": 9, "titlePadding": 25}},
         "y": {"field": "s", "type": "quantitative", "scale": {"domain": [-0.04, 1.04], "nice": false, "zero": false}, "axis": {"values": [0, 0.2, 0.4, 0.6, 0.8, 1], "format": ".1f", "title": "Probability", "labelAngle": 270, "labelAlign": "center", "labelBaseline": "bottom", "tickSize": 4, "labelPadding": 0, "titlePadding": 4}},
         "color": {"field": "g", "type": "nominal", "scale": {"domain": ["low", "high"], "range": ["#000000", "#ee1111"]}, "legend": {"title": "Expression", "orient": "none", "legendX": 4.4, "legendY": 296}}
       }},
      {"data": {"name": "censor"}, "transform": [{"filter": "datum.p === 'C'"}],
       "mark": {"type": "point", "shape": "M-1,0L1,0M0,-1L0,1", "filled": false, "size": 30, "strokeWidth": 1, "opacity": 1},
       "encoding": {"x": {"field": "t", "type": "quantitative"}, "y": {"field": "s", "type": "quantitative"}, "color": {"field": "g", "type": "nominal", "legend": null}}},
      {"data": {"values": [{}]}, "mark": {"type": "text", "align": "right", "baseline": "middle", "fontSize": 8.5, "lineHeight": 10, "color": "#222"},
       "encoding": {"x": {"datum": 155.5}, "y": {"datum": 0.98}, "text": {"value": ["HR = 1.81 (1.18 - 2.76)", "logrank P = 0.0054"]}}},
      {"data": {"values": [{}]}, "mark": {"type": "text", "align": "left", "baseline": "middle", "fontSize": 9, "color": "#222"},
       "encoding": {"x": {"datum": 0}, "y": {"datum": -0.26}, "text": {"value": "Number at risk"}}},
      {"data": {"values": [{}]}, "mark": {"type": "text", "align": "right", "baseline": "middle", "fontSize": 9, "color": "#222", "dx": -10},
       "encoding": {"x": {"datum": 0}, "y": {"datum": -0.298}, "text": {"value": "low"}}},
      {"data": {"values": [{}]}, "mark": {"type": "text", "align": "right", "baseline": "middle", "fontSize": 9, "color": "#ee1111", "dx": -10},
       "encoding": {"x": {"datum": 0}, "y": {"datum": -0.348}, "text": {"value": "high"}}},
      {"data": {"name": "risk"}, "transform": [{"filter": "datum.p === 'C' && datum.g === 'low'"}],
       "mark": {"type": "text", "align": "center", "baseline": "middle", "fontSize": 9, "color": "#222"},
       "encoding": {"x": {"field": "t", "type": "quantitative"}, "y": {"datum": -0.298}, "text": {"field": "n"}}},
      {"data": {"name": "risk"}, "transform": [{"filter": "datum.p === 'C' && datum.g === 'high'"}],
       "mark": {"type": "text", "align": "center", "baseline": "middle", "fontSize": 9, "color": "#ee1111"},
       "encoding": {"x": {"field": "t", "type": "quantitative"}, "y": {"datum": -0.348}, "text": {"field": "n"}}}
    ]
  }
]
}
